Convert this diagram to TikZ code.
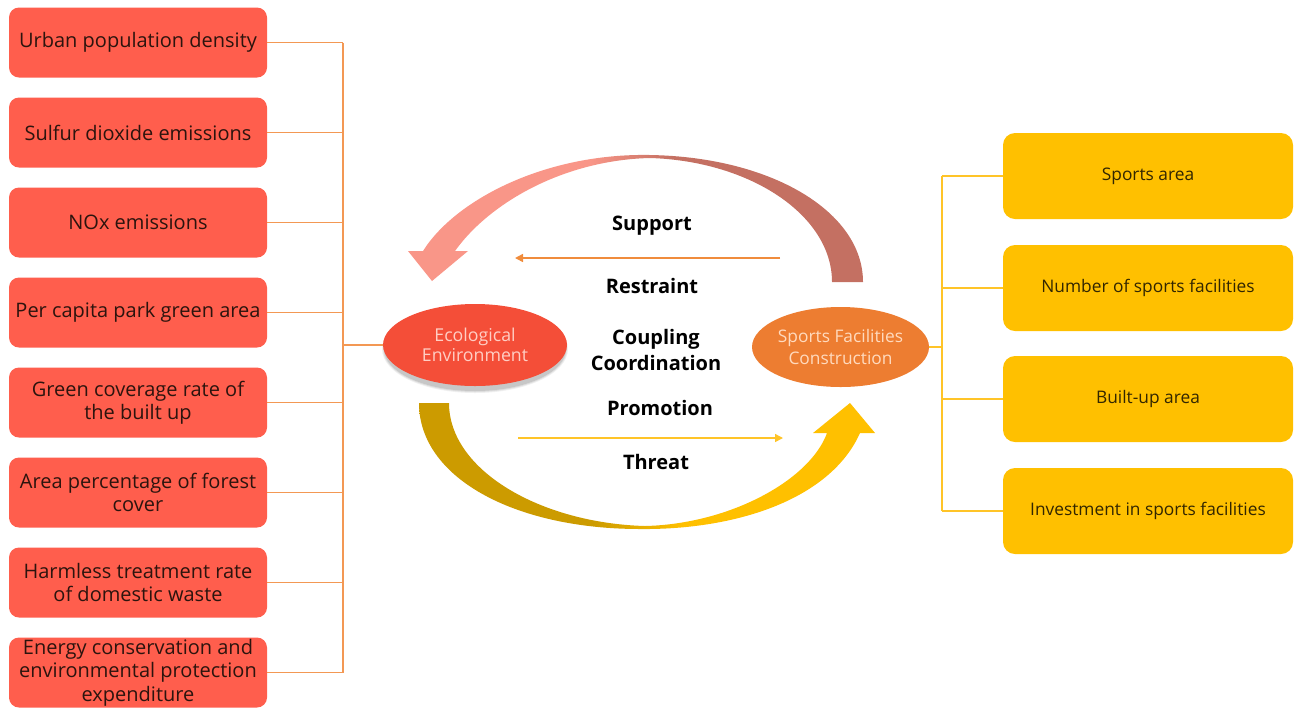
\documentclass[tikz,border=0pt]{standalone}
\usepackage{fontspec}
\setmainfont{Open Sans}
\usetikzlibrary{shapes.geometric,arrows.meta}

\definecolor{boxred}{RGB}{255,94,77}
\definecolor{boxtext}{RGB}{44,20,14}
\definecolor{boxgold}{RGB}{255,192,0}
\definecolor{goldtext}{RGB}{50,38,0}
\definecolor{lineorange}{RGB}{243,152,84}
\definecolor{lineyellow}{RGB}{255,196,40}
\definecolor{arroworange}{RGB}{240,140,60}
\definecolor{ecored}{RGB}{244,78,56}
\definecolor{ecotext}{RGB}{255,206,196}
\definecolor{sportorange}{RGB}{237,125,49}
\definecolor{sporttext}{RGB}{255,218,190}
\definecolor{topL}{RGB}{249,150,136}
\definecolor{topR}{RGB}{196,112,98}
\definecolor{botL}{RGB}{204,155,0}
\definecolor{botR}{RGB}{255,192,0}

% two-tone shadings for the curved arrows, blending near the middle
\pgfdeclarehorizontalshading{supportshade}{100bp}{color(0bp)=(topL); color(25bp)=(topL); color(45bp)=(topL); color(54bp)=(topR); color(75bp)=(topR); color(100bp)=(topR)}
\pgfdeclarehorizontalshading{promoteshade}{100bp}{color(0bp)=(botL); color(25bp)=(botL); color(44bp)=(botL); color(54bp)=(botR); color(75bp)=(botR); color(100bp)=(botR)}

\begin{document}
\begin{tikzpicture}[x=0.75pt,y=-0.75pt,
  lbox/.style={fill=boxred, rounded corners=7.5pt, minimum width=193.5pt,
    minimum height=52.5pt, align=center, text=boxtext, inner sep=1pt,
    font=\fontsize{15}{17.5}\selectfont},
  rbox/.style={fill=boxgold, rounded corners=9pt, minimum width=217.5pt,
    minimum height=64.5pt, align=center, text=goldtext, inner sep=1pt,
    font=\fontsize{13}{15}\selectfont},
  lline/.style={draw=lineorange, line width=1.2pt},
  rline/.style={draw=lineyellow, line width=1.2pt},
  lbl/.style={font=\bfseries\fontsize{15}{18}\selectfont, text=black},
]
\useasboundingbox (0,0) rectangle (1298,708);

% ---- ecological indicators (left) ----
\node[lbox] (l1) at (138,42.5)  {Urban population density};
\node[lbox] (l2) at (138,132.5) {Sulfur dioxide emissions};
\node[lbox] (l3) at (138,222.5) {NOx emissions};
\node[lbox] (l4) at (138,312.5) {Per capita park green area};
\node[lbox] (l5) at (138,402.5) {Green coverage rate of\\the built up};
\node[lbox] (l6) at (138,492.5) {Area percentage of forest\\cover};
\node[lbox] (l7) at (138,582.5) {Harmless treatment rate\\of domestic waste};
\node[lbox] (l8) at (138,672.5) {Energy conservation and\\environmental protection\\expenditure};

% ---- sports facility indicators (right) ----
\node[rbox] (r1) at (1148,176) {Sports area};
\node[rbox] (r2) at (1148,288) {Number of sports facilities};
\node[rbox] (r3) at (1148,399) {Built-up area};
\node[rbox] (r4) at (1148,511) {Investment in sports facilities};

% ---- the two systems ----
\foreach \k/\o in {1/0.10,2/0.08,3/0.06}
  \fill[black, opacity=\o] (475,349) ellipse [x radius=90+\k, y radius=41+\k];
\node[ellipse, fill=ecored, minimum width=138pt, minimum height=61.5pt,
  inner sep=0pt, align=center, text=ecotext,
  font=\fontsize{13.3}{15}\selectfont] (eco) at (475,345) {Ecological\\Environment};
\node[ellipse, fill=sportorange, minimum width=132.75pt, minimum height=60pt,
  inner sep=0pt, align=center, text=sporttext,
  font=\fontsize{13}{17.2}\selectfont] (spo) at (840.5,347) {Sports Facilities\\Construction};

% ---- bracket connectors ----
\coordinate (lbus) at (343,0);
\coordinate (rbus) at (942,0);
\foreach \n in {l1,l2,l3,l4,l5,l6,l7,l8}
  \draw[lline] (\n.east) -- (\n.east -| lbus);
\draw[lline] (l1.east -| lbus) -- (l8.east -| lbus);
\draw[lline] (eco.west -| lbus) -- (eco.west);
\foreach \n in {r1,r2,r3,r4}
  \draw[rline] (\n.west) -- (\n.west -| rbus);
\draw[rline] (r1.west -| rbus) -- (r4.west -| rbus);
\draw[rline] (spo.east) -- (spo.east -| rbus);

% ---- curved feedback arrows ----
\shade[shading=supportshade]
  (863,282) .. controls (863,212) and (772,157) .. (650,155)
  .. controls (545,153) and (455,200) .. (423,251)
  -- (408,251) -- (432,281) -- (468,251) -- (455,251)
  .. controls (490,202) and (565,160) .. (650,158)
  .. controls (750,161) and (832,215) .. (832,282) -- cycle;
\shade[shading=promoteshade]
  (419,403) .. controls (419,478) and (515,529) .. (640,529)
  .. controls (735,530) and (830,500) .. (860,433)
  -- (875,433) -- (850,403) -- (813,433) -- (827,433)
  .. controls (810,480) and (730,524) .. (645,526)
  .. controls (540,523) and (449,470) .. (449,403) -- cycle;

% ---- straight arrows ----
\coordinate (supS) at (780,258);
\coordinate (supE) at (515,258);
\coordinate (proS) at (518,438);
\coordinate (proE) at (783,438);
\draw[draw=arroworange, line width=1.1pt, -{Triangle[length=6pt,width=6pt]}] (supS) -- (supE);
\draw[draw=lineyellow, line width=1.1pt, -{Triangle[length=6pt,width=6pt]}] (proS) -- (proE);

% ---- relation labels ----
\node[lbl] (tSup) at (652,226) {Support};
\node[lbl] (tRes) at (652,286) {Restraint};
\node[lbl, align=center, font=\bfseries\fontsize{15}{19.5}\selectfont] (tCou) at (656,350) {Coupling\\Coordination};
\node[lbl] (tPro) at (660,408) {Promotion};
\node[lbl] (tThr) at (656,462) {Threat};
\end{tikzpicture}
\end{document}
